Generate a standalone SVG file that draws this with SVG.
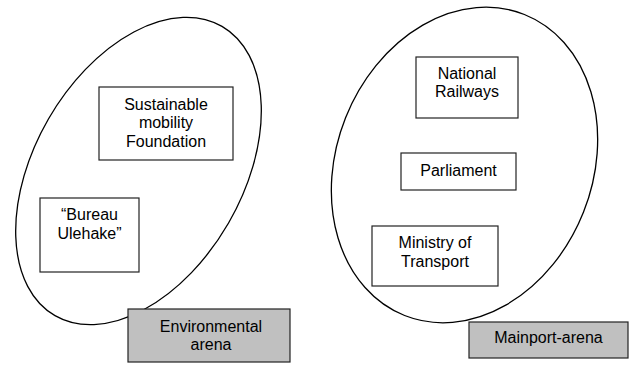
<svg xmlns="http://www.w3.org/2000/svg" width="632" height="374" viewBox="0 0 632 374">
  <style>
    .arena { fill: none; stroke: #000; stroke-width: 1.3; }
    .box { fill: #fff; stroke: #222; stroke-width: 1.2; }
    .tag { fill: #c0c0c0; stroke: #222; stroke-width: 1.2; }
    text { font-family: "Liberation Sans", Arial, sans-serif; font-size: 16px; fill: #000; text-anchor: middle; }
  </style>
  <rect width="632" height="374" fill="#fff"/>

  <!-- arena outlines -->
  <g id="arenas">
    <ellipse id="environmental-outline" class="arena" cx="138.5" cy="171" rx="104" ry="167" transform="rotate(30 138.5 171)"/>
    <ellipse id="mainport-outline" class="arena" cx="464.5" cy="165" rx="128" ry="162" transform="rotate(21.7 464.5 165)"/>
  </g>

  <!-- environmental arena actors -->
  <g id="sustainable-mobility">
    <rect class="box" x="99" y="87" width="134" height="73"/>
    <text x="166" y="110">Sustainable</text>
    <text x="166" y="128.3">mobility</text>
    <text x="166" y="146.7">Foundation</text>
  </g>
  <g id="bureau-ulehake">
    <rect class="box" x="40" y="198" width="99" height="74"/>
    <text x="89.5" y="220">“Bureau</text>
    <text x="89.5" y="238.7">Ulehake”</text>
  </g>
  <g id="environmental-arena">
    <rect class="tag" x="128" y="309" width="162" height="53"/>
    <text x="211" y="331.7">Environmental</text>
    <text x="211" y="350">arena</text>
  </g>

  <!-- mainport arena actors -->
  <g id="national-railways">
    <rect class="box" x="416" y="57" width="102" height="61"/>
    <text x="467" y="79">National</text>
    <text x="467" y="97.3">Railways</text>
  </g>
  <g id="parliament">
    <rect class="box" x="401" y="153" width="115" height="37"/>
    <text x="458.5" y="176">Parliament</text>
  </g>
  <g id="ministry-of-transport">
    <rect class="box" x="372" y="226" width="126" height="60"/>
    <text x="435" y="248.3">Ministry of</text>
    <text x="435" y="266.7">Transport</text>
  </g>
  <g id="mainport-arena">
    <rect class="tag" x="469" y="322" width="159" height="36"/>
    <text x="548.5" y="343.3">Mainport-arena</text>
  </g>

  <g id="connectors"/>
</svg>
